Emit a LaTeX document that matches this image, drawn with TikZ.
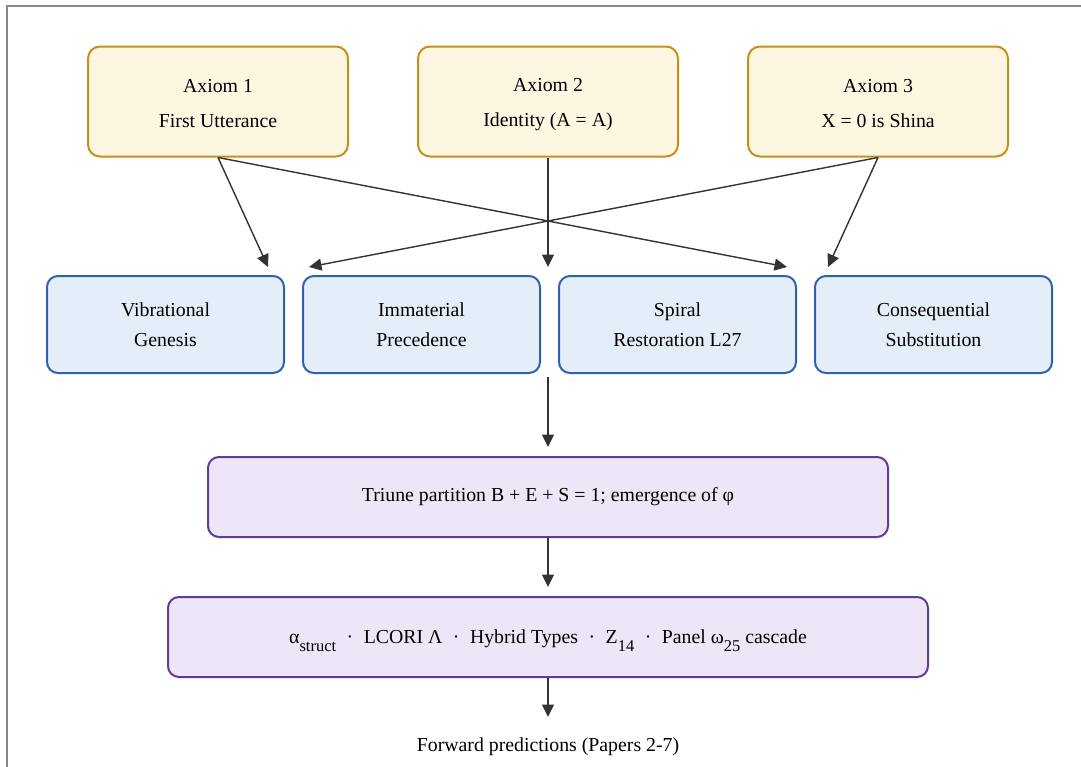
\documentclass[tikz,border=0pt]{standalone}
\usepackage{fontspec}
\setmainfont{Liberation Serif}
\usetikzlibrary{arrows.meta}
\definecolor{axfill}{HTML}{FDF6E0}
\definecolor{axdraw}{HTML}{C8901A}
\definecolor{mfill}{HTML}{E4EEF9}
\definecolor{mdraw}{HTML}{2F62AD}
\definecolor{pfill}{HTML}{EEE5F7}
\definecolor{pdraw}{HTML}{5E3D98}
\definecolor{edgecol}{HTML}{333333}
\definecolor{framecol}{HTML}{888888}
\newcommand{\lowsub}[1]{\raisebox{-8.5pt}{\fontsize{16.5}{16.5}\selectfont #1}}
\newcommand{\sepdot}{\hspace{10.5pt}·\hspace{10.5pt}}
\newcommand{\tophold}[1]{\vrule width 0pt height #1 depth 0pt}
\newcommand{\bothold}[1]{\vrule width 0pt height 0pt depth #1}
\begin{document}
\begin{tikzpicture}[x=1pt,y=-1pt,
  axiom/.style={draw=axdraw, fill=axfill, line width=2pt, rounded corners=12pt,
    minimum width=260pt, minimum height=110pt, align=center, inner sep=0pt,
    font=\fontsize{19.8}{35}\selectfont},
  mbox/.style={draw=mdraw, fill=mfill, line width=2pt, rounded corners=11pt,
    minimum width=237pt, minimum height=97pt, align=center, inner sep=0pt,
    font=\fontsize{19.8}{30}\selectfont},
  pbox/.style={draw=pdraw, fill=pfill, line width=2pt, rounded corners=11pt,
    minimum height=80pt, align=center, inner sep=0pt,
    font=\fontsize{19.8}{22}\selectfont},
  plain/.style={inner sep=0pt, font=\fontsize{19.8}{22}\selectfont},
  arr/.style={draw=edgecol, line width=1.4pt, -{Triangle[length=12.5pt,width=12pt]}},
]
\useasboundingbox (0,0) rectangle (1081,766);
\draw[framecol, line width=2pt] (7,770) -- (7,6) -- (1085,6);

% axioms
\node[axiom] (a1) at (218,101.5) {\tophold{20pt}Axiom 1\\First Utterance\bothold{4pt}};
\node[axiom] (a2) at (548,101.5) {\tophold{20pt}Axiom 2\\Identity (A = A)\bothold{4pt}};
\node[axiom] (a3) at (878,101.5) {\tophold{20pt}Axiom 3\\X = 0 is Shina\bothold{4pt}};

% middle row
\node[mbox] (m1) at (165.5,324.5) {\tophold{18pt}Vibrational\\Genesis\bothold{4pt}};
\node[mbox] (m2) at (421.5,324.5) {\tophold{18pt}Immaterial\\Precedence\bothold{4pt}};
\node[mbox] (m3) at (677.5,324.5) {\tophold{18pt}Spiral\\Restoration L27\bothold{4pt}};
\node[mbox] (m4) at (933.5,324.5) {\tophold{18pt}Consequential\\Substitution\bothold{4pt}};

% lower boxes
\node[pbox, minimum width=680pt] (tri) at (548,497)
  {\tophold{14pt}Triune partition B + E + S = 1; emergence of φ\bothold{4.5pt}};
\node[pbox, minimum width=760pt] (cas) at (548,637)
  {\tophold{22pt}α\lowsub{struct}\sepdot LCORI Λ\sepdot Hybrid Types\sepdot Z\lowsub{14}\sepdot Panel ω\lowsub{25} cascade\bothold{9.4pt}};
\node[plain, anchor=base] (fwd) at (548,751) {Forward predictions (Papers 2-7)};

% free ends of connectors
\coordinate (e11) at (268,267);
\coordinate (e13) at (787,267);
\coordinate (e2) at (548,267);
\coordinate (e32) at (309,267);
\coordinate (e34) at (828,267);
\coordinate (rowout) at (548,377);
\coordinate (trin) at (548,447);
\coordinate (casn) at (548,587);
\coordinate (fwdn) at (548,717);

\draw[arr] (a1.south) -- (e11);
\draw[arr] (a1.south) -- (e13);
\draw[arr] (a2.south) -- (e2);
\draw[arr] (a3.south) -- (e32);
\draw[arr] (a3.south) -- (e34);
\draw[arr] (rowout) -- (trin);
\draw[arr] (tri.south) -- (casn);
\draw[arr] (cas.south) -- (fwdn);
\end{tikzpicture}
\end{document}
